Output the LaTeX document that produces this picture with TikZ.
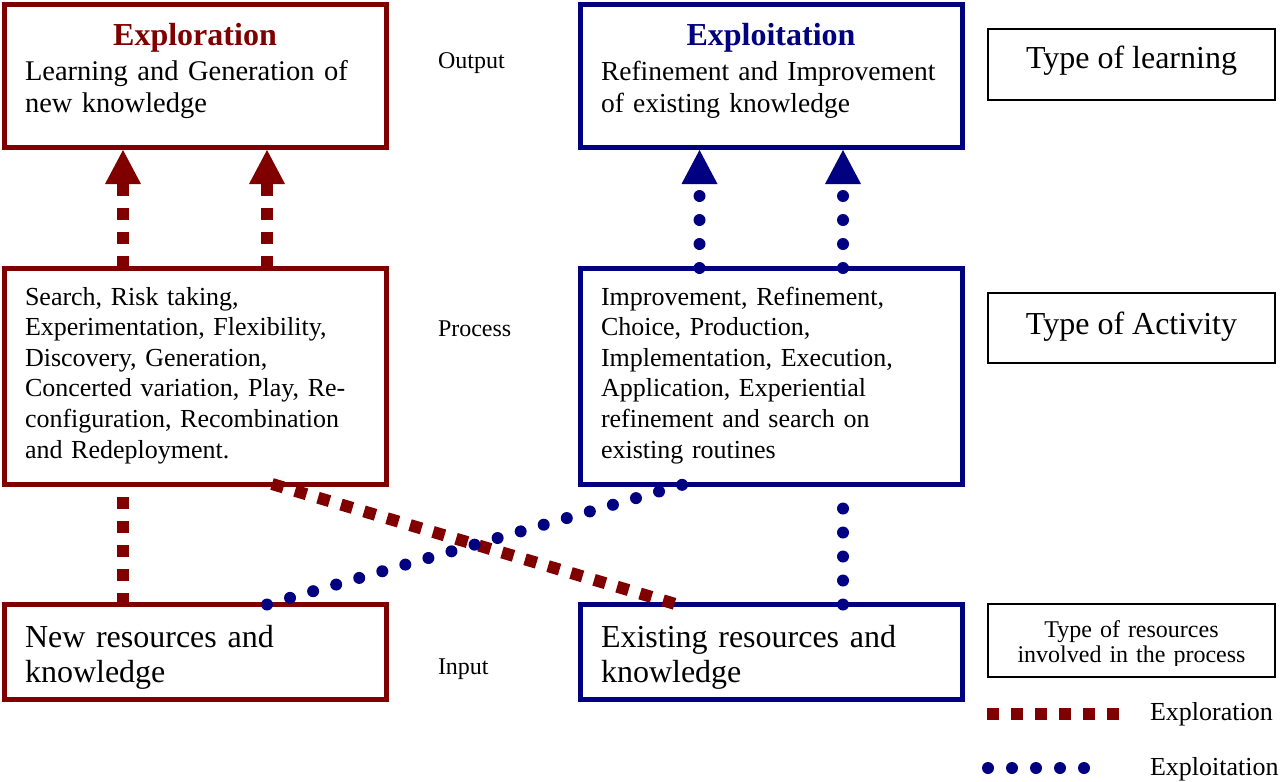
\documentclass[tikz,border=0pt]{standalone}
\usepackage{fontspec}
\setmainfont{Liberation Serif}
\usetikzlibrary{arrows.meta}
\definecolor{expred}{RGB}{128,0,0}
\definecolor{expblue}{RGB}{0,0,128}
\tikzset{
  redbox/.style={draw=expred, line width=5pt, rectangle, inner sep=0pt, outer sep=0pt},
  bluebox/.style={draw=expblue, line width=5pt, rectangle, inner sep=0pt, outer sep=0pt},
  blackbox/.style={draw=black, line width=2pt, rectangle, inner sep=0pt, outer sep=0pt},
  txt/.style={inner sep=0pt, outer sep=0pt, anchor=base west, align=left, text width=370pt},
  ctxt/.style={inner sep=0pt, outer sep=0pt, anchor=base, align=center},
  explline/.style={draw=expred, line width=12pt, line cap=butt, dash pattern=on 12pt off 12pt},
  exploitline/.style={draw=expblue, line width=12pt, line cap=round, dash pattern=on 0pt off 24pt},
  headtip/.style={-{Triangle[width=36pt,length=34pt,line width=0pt]}, shorten >=2.5pt},
  fA/.style={font=\fontsize{26}{30.6}\selectfont},
  fB/.style={font=\fontsize{28.5}{32}\selectfont},
  fB2/.style={font=\fontsize{27.5}{32}\selectfont},
  fC/.style={font=\fontsize{32}{35}\selectfont},
  fS/.style={font=\fontsize{24}{25}\selectfont},
  fT/.style={font=\fontsize{32}{35}\selectfont\bfseries},
}
\begin{document}
\begin{tikzpicture}[x=1pt,y=-1pt]
\useasboundingbox (0,0) rectangle (1283,782);
% boxes
\node[redbox, minimum width=382.5pt, minimum height=143.5pt] (L1) at (195.25,75.75) {};
\node[bluebox, minimum width=382pt, minimum height=143.5pt] (R1) at (771,75.75) {};
\node[redbox, minimum width=382.5pt, minimum height=216pt] (L2) at (195.25,376) {};
\node[bluebox, minimum width=382pt, minimum height=216pt] (R2) at (771,376) {};
\node[redbox, minimum width=382.5pt, minimum height=95pt] (L3) at (195.25,652) {};
\node[bluebox, minimum width=382pt, minimum height=95pt] (R3) at (771,652) {};
\node[blackbox, minimum width=287pt, minimum height=71pt] (T1) at (1131.5,64.5) {};
\node[blackbox, minimum width=287pt, minimum height=70pt] (T2) at (1131.5,328) {};
\node[blackbox, minimum width=287pt, minimum height=73pt] (T3) at (1131.5,640.5) {};
% texts in boxes
\node[ctxt, fT, text=expred] (L1t) at (195,45) {Exploration};
\node[txt, fB] (L1b) at (25,80) {Learning and Generation of\\new knowledge};
\node[ctxt, fT, text=expblue] (R1t) at (771,45) {Exploitation};
\node[txt, fB2] (R1b) at (601,80) {Refinement and Improvement\\of existing knowledge};
\node[txt, fA] (L2b) at (25,305) {Search, Risk taking,\\Experimentation, Flexibility,\\Discovery, Generation,\\Concerted variation, Play, Re-\\configuration, Recombination\\and Redeployment.};
\node[txt, fA] (R2b) at (601,305) {Improvement, Refinement,\\Choice, Production,\\Implementation, Execution,\\Application, Experiential\\refinement and search on\\existing routines};
\node[txt, fC] (L3b) at (25,647) {New resources and\\knowledge};
\node[txt, fC] (R3b) at (601,647) {Existing resources and\\knowledge};
\node[ctxt, fC] (T1b) at (1131.5,68) {Type of learning};
\node[ctxt, fC] (T2b) at (1131.5,334) {Type of Activity};
\begin{scope}
\clip (989,605) rectangle (1274,665);
\node[ctxt, fS, text width=280pt] (T3b) at (1131.5,637) {Type of resources\\involved in the process};
\end{scope}
% middle labels
\node[txt, fS, text width=100pt] (out) at (438,68) {Output};
\node[txt, fS, text width=100pt] (pro) at (438,336) {Process};
\node[txt, fS, text width=100pt] (inp) at (438,674) {Input};
% x positions
\coordinate (xa) at (123,0);
\coordinate (xb) at (267,0);
\coordinate (xc) at (699.5,0);
\coordinate (xd) at (843,0);
\coordinate (xe) at (272,0);
\coordinate (xf) at (677,0);
\coordinate (xg) at (267,0);
\coordinate (xh) at (685,0);
% connectors
\draw[explline, headtip] (L2.north -| xa) -- (L1.south -| xa);
\draw[explline, headtip] (L2.north -| xb) -- (L1.south -| xb);
\draw[exploitline, headtip] (R2.north -| xc) -- (R1.south -| xc);
\draw[exploitline, headtip] (R2.north -| xd) -- (R1.south -| xd);
\draw[explline] (L3.north -| xa) -- (L2.south -| xa);
\draw[exploitline, shorten >=8pt] (R3.north -| xd) -- (R2.south -| xd);
\draw[explline] (L2.south -| xe) -- (R3.north -| xf);
\draw[exploitline] (L3.north -| xg) -- (R2.south -| xh);
% legend
\coordinate (lg1) at (987,714);
\coordinate (lg2) at (1119,714);
\coordinate (lg3) at (988,768);
\coordinate (lg4) at (1086,768);
\draw[explline] (lg1) -- (lg2);
\draw[exploitline] (lg3) -- (lg4);
\node[txt, fA, text width=140pt] (lgt1) at (1150,720) {Exploration};
\node[txt, fA, text width=140pt] (lgt2) at (1150,775) {Exploitation};
\end{tikzpicture}
\end{document}
